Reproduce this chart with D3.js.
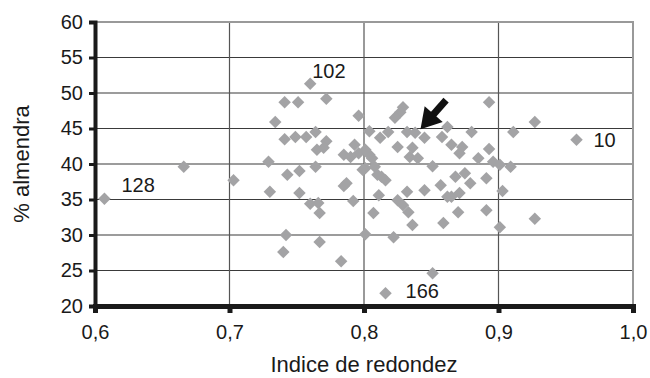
<!DOCTYPE html>
<html>
<head>
<meta charset="utf-8">
<script src="https://cdn.jsdelivr.net/npm/d3@7"></script>
<style>
  body { margin: 0; background: #fff; }
  text { font-family: "Liberation Sans", Arial, sans-serif; fill: #1a1a1a; }
</style>
</head>
<body>
<div id="chart"></div>
<script>
// indice de redondez (x) vs % almendra (y)
var redondez = [0.607, 0.666, 0.703, 0.729, 0.730, 0.740, 0.742, 0.734, 0.741, 0.751,
  0.772, 0.760, 0.741, 0.749, 0.757, 0.764, 0.772, 0.765, 0.770, 0.785,
  0.764, 0.752, 0.743, 0.785, 0.752, 0.760, 0.766, 0.767, 0.767, 0.783,
  0.792, 0.790, 0.796, 0.801, 0.806, 0.808, 0.810, 0.816, 0.811, 0.807,
  0.801, 0.822, 0.825, 0.829, 0.833, 0.832, 0.836, 0.834, 0.840, 0.851,
  0.857, 0.862, 0.859, 0.851, 0.816, 0.796, 0.829, 0.827, 0.823, 0.804,
  0.812, 0.818, 0.832, 0.838, 0.845, 0.825, 0.836, 0.858, 0.862, 0.865,
  0.873, 0.871, 0.880, 0.793, 0.801, 0.804, 0.799, 0.787, 0.868, 0.875,
  0.879, 0.845, 0.871, 0.870, 0.893, 0.927, 0.911, 0.958, 0.893, 0.885,
  0.896, 0.901, 0.909, 0.891, 0.903, 0.891, 0.901, 0.927, 0.865, 0.813];
var almendra = [35.1, 39.6, 37.7, 40.3, 36.1, 27.6, 30.0, 45.9, 48.7, 48.7,
  49.2, 51.3, 43.5, 43.8, 43.8, 44.5, 43.2, 42.0, 42.3, 41.3,
  39.6, 39.0, 38.5, 36.9, 35.9, 34.4, 34.5, 33.1, 29.0, 26.3,
  34.8, 41.0, 41.5, 39.4, 40.8, 39.6, 38.5, 37.7, 35.6, 33.1,
  30.1, 29.7, 34.9, 34.2, 33.2, 36.1, 31.4, 41.0, 40.8, 39.7,
  37.0, 35.4, 31.7, 24.6, 21.8, 46.8, 48.0, 47.3, 46.5, 44.6,
  43.7, 44.5, 44.5, 44.4, 43.7, 42.4, 42.3, 43.8, 45.2, 42.7,
  42.4, 41.5, 44.5, 42.7, 42.0, 41.3, 39.2, 37.3, 38.2, 38.7,
  37.3, 36.3, 35.9, 33.2, 48.7, 45.9, 44.5, 43.4, 42.1, 40.8,
  40.3, 39.9, 39.6, 38.0, 36.2, 33.5, 31.1, 32.3, 35.4, 38.2];
var etiquetas = [
  { id: "102", x: 0.760, y: 51.3 },
  { id: "128", x: 0.607, y: 35.1 },
  { id: "10", x: 0.958, y: 43.4 },
  { id: "166", x: 0.816, y: 21.8 }
];
var xTicks = [0.6, 0.7, 0.8, 0.9, 1.0];
var yTicks = [20, 25, 30, 35, 40, 45, 50, 55, 60];
var flecha = { x1: 0.861, y1: 49.0, x2: 0.842, y2: 44.9 };

var width = 650, height = 378;
var margin = { top: 22, right: 17, bottom: 72, left: 95 };

var svg = d3.select("#chart").append("svg")
  .attr("width", width)
  .attr("height", height);

var x = d3.scaleLinear().domain([0.6, 1.0]).range([margin.left, width - margin.right]);
var y = d3.scaleLinear().domain([20, 60]).range([height - margin.bottom, margin.top]);

var es = d3.formatLocale({ decimal: ",", thousands: ".", grouping: [3], currency: ["", "€"] });
var fmtX = es.format(".1f");

// grid
svg.append("g").selectAll("line").data(yTicks.slice(1, -1)).enter().append("line")
  .attr("x1", x(0.6)).attr("x2", x(1.0))
  .attr("y1", function(d) { return y(d); }).attr("y2", function(d) { return y(d); })
  .attr("stroke", "#3a3a3a").attr("stroke-width", 1.2);
svg.append("g").selectAll("line").data(xTicks.slice(1, -1)).enter().append("line")
  .attr("y1", y(20)).attr("y2", y(60))
  .attr("x1", function(d) { return x(d); }).attr("x2", function(d) { return x(d); })
  .attr("stroke", "#555").attr("stroke-width", 1.2);
// top & right frame
svg.append("path")
  .attr("d", "M" + x(0.6) + "," + y(60) + "H" + x(1.0) + "V" + y(20))
  .attr("fill", "none").attr("stroke", "#999").attr("stroke-width", 2);

// axes
var yAxis = svg.append("g")
  .attr("transform", "translate(" + x(0.6) + ",0)")
  .call(d3.axisLeft(y).tickValues(yTicks).tickSize(6).tickPadding(6));
yAxis.select(".domain").attr("stroke", "#1a1a1a").attr("stroke-width", 4);
yAxis.selectAll(".tick line").attr("stroke", "#1a1a1a").attr("stroke-width", 3);
yAxis.selectAll("text").style("font-size", "20px").attr("fill", "#1a1a1a");

var xAxis = svg.append("g")
  .attr("transform", "translate(0," + y(20) + ")")
  .call(d3.axisBottom(x).tickValues(xTicks).tickFormat(fmtX).tickSize(7).tickPadding(12));
xAxis.select(".domain").attr("stroke", "#1a1a1a").attr("stroke-width", 5);
xAxis.selectAll(".tick line").attr("stroke", "#1a1a1a").attr("stroke-width", 5);
xAxis.selectAll("text").style("font-size", "20px").attr("fill", "#1a1a1a");

// points
var diamond = d3.symbol().type(d3.symbolSquare).size(78);
svg.append("g").selectAll("path").data(redondez).enter().append("path")
  .attr("d", diamond)
  .attr("transform", function(d, i) { return "translate(" + x(d) + "," + y(almendra[i]) + ") rotate(45)"; })
  .attr("fill", "#a3a3a5");

// labels
var off = { "102": [2, -6], "128": [17, -7], "10": [17, 7], "166": [20, 5] };
svg.append("g").selectAll("text").data(etiquetas).enter().append("text")
  .attr("x", function(d) { return x(d.x) + off[d.id][0]; })
  .attr("y", function(d) { return y(d.y) + off[d.id][1]; })
  .style("font-size", "20px")
  .text(function(d) { return d.id; });

// arrow
var ax1 = x(flecha.x1), ay1 = y(flecha.y1), ax2 = x(flecha.x2), ay2 = y(flecha.y2);
var ang = Math.atan2(ay2 - ay1, ax2 - ax1);
var hl = 20, hw = 12;
var bx = ax2 - hl * Math.cos(ang), by = ay2 - hl * Math.sin(ang);
svg.append("line")
  .attr("x1", ax1).attr("y1", ay1).attr("x2", bx + 2 * Math.cos(ang)).attr("y2", by + 2 * Math.sin(ang))
  .attr("stroke", "#111").attr("stroke-width", 7);
svg.append("path")
  .attr("d", "M" + ax2 + "," + ay2 +
    "L" + (bx + hw * Math.sin(ang)) + "," + (by - hw * Math.cos(ang)) +
    "L" + (bx - hw * Math.sin(ang)) + "," + (by + hw * Math.cos(ang)) + "Z")
  .attr("fill", "#111");

// axis titles
svg.append("text")
  .attr("x", (x(0.6) + x(1.0)) / 2).attr("y", 372)
  .attr("text-anchor", "middle")
  .style("font-size", "22px")
  .text("Indice de redondez");
svg.append("text")
  .attr("transform", "translate(29," + ((y(20) + y(60)) / 2) + ") rotate(-90)")
  .attr("text-anchor", "middle")
  .style("font-size", "22px")
  .text("% almendra");
</script>
</body>
</html>
